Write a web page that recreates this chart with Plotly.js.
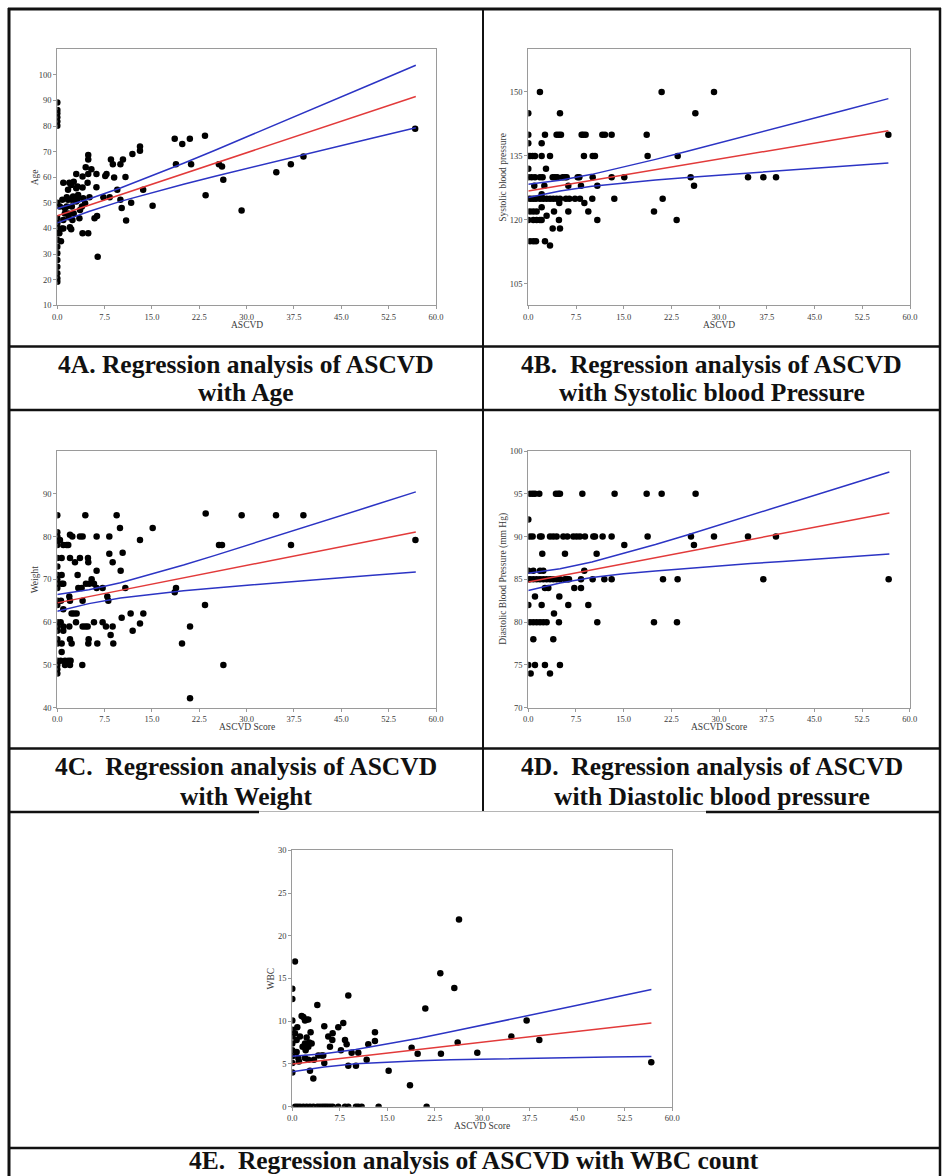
<!DOCTYPE html>
<html>
<head>
<meta charset="utf-8">
<script src="https://cdn.plot.ly/plotly-3.0.1.min.js"></script>
<style>
  html, body { margin: 0; padding: 0; background: #fff; }
  #fig { width: 942px; height: 1176px; }
</style>
</head>
<body>
<div id="fig"></div>
<script>
// ---- Data: ASCVD score against five clinical variables ----
const xTicks = [0, 7.5, 15, 22.5, 30, 37.5, 45, 52.5, 60];
// x positions at which the fitted line and its confidence band are listed
const bandX = [0, 5, 10, 15, 20, 25, 30, 35, 40, 45, 50];

// 4A  Age
const ageX = [0,0,0,0,0,0,0,0,0,0,0,0,0,0,0,0,0,0,0,
  0.95,0.58,0.32,0.69,0.95,0.95,1.2,1.2,1.5,1.7,1.5,1.7,1.9,2.2,2.3,2.5,2.3,2.0,2.2,2.4,2.6,
  3.0,3.0,3.0,3.3,3.5,3.6,4.0,4.0,4.0,4.4,4.5,4.8,4.9,4.9,4.9,4.9,5.1,5.4,5.9,6.2,6.2,6.3,6.4,
  7.3,7.6,7.8,8.3,8.5,8.8,9.0,9.5,10.0,10.0,10.2,10.4,10.8,10.9,11.7,11.9,13.1,13.1,13.6,15.1,
  18.6,18.8,19.8,21.0,21.2,23.4,23.5,25.6,26.1,26.3,29.2,34.7,37.0,39.0,56.7,
  0.4,0.8,1.7,3.2,3.9,4.1,2.6,3.2,1.8];
const ageY = [89.2,86.3,85.0,83.5,81.8,80.1,50.1,44.0,42.0,40.1,38.1,35.5,32.9,30.3,27.7,25.1,22.5,20.5,19.2,
  57.9,35.0,38.1,40.0,40.0,43.3,45.9,47.9,48.6,45.9,52.2,55.1,57.9,57.0,51.2,52.5,48.6,40.5,39.7,43.3,45.9,
  61.3,55.7,50.5,53.1,44.0,47.2,60.3,56.0,38.1,49.9,63.9,57.9,38.1,68.7,67.0,61.3,52.2,63.1,44.0,61.3,56.1,44.9,29.0,
  52.2,60.5,61.3,52.2,67.0,65.1,59.9,55.1,65.1,51.2,48.0,67.0,60.1,43.1,50.1,69.1,70.4,72.0,55.1,48.9,
  75.1,65.1,73.0,75.1,65.1,76.2,53.0,65.1,64.2,59.0,47.0,62.0,65.1,68.1,79.0,
  48.6,51.2,51.2,51.2,48.6,51.8,58.3,56.4,44.4];
const ageFitX = bandX.concat([56.8]);
const ageFit = [45.0, 49.1, 53.2, 57.3, 61.4, 65.5, 69.6, 73.7, 77.8, 81.9, 86.0, 91.58];
const ageHi  = [47.8, 51.53, 55.8, 60.52, 65.49, 70.59, 75.75, 80.94, 86.16, 91.39, 96.63, 103.78];
const ageLo  = [42.2, 46.67, 50.6, 54.09, 57.31, 60.42, 63.46, 66.46, 69.44, 72.41, 75.37, 79.38];

// 4B  Systolic blood pressure
const sbpX = [0,0,0,0,0.26,0.68,1.05,0,0,0.52,1.05,1.83,2.25,0.94,0,0.37,0.79,1.21,1.83,2.36,2.88,3.41,3.93,4.45,4.98,
  0.26,0.79,1.31,0,0.79,1.31,1.83,2.10,0.26,0.79,1.21,1.83,2.10,2.10,2.52,2.62,2.78,2.62,2.10,2.10,2.88,3.41,3.41,
  3.83,4.19,4.56,4.04,3.83,4.82,4.98,4.87,4.45,4.82,5.14,4.98,5.40,5.77,6.03,6.29,6.29,5.92,6.45,7.34,7.76,8.02,
  8.28,8.39,8.65,9.01,8.75,8.12,8.81,9.43,10.06,10.12,10.12,10.48,10.85,10.85,11.64,12.05,13.10,13.10,13.52,15.09,
  18.61,18.76,19.76,20.96,21.12,23.32,23.48,25.52,26.05,26.26,29.19,34.54,36.95,38.94,56.6];
const sbpY = [145,140,138,135,135,135,135,132,130,130,130,130,130,128,125,125,125,125,125,125,125,125,125,125,125,
  122,122,122,120,120,120,120,120,115,115,115,150,138,135,128,140,132,115,123,126,121,135,114,
  130,130,130,122,118,120,118,124,140,140,140,145,130,130,130,128,122,125,125,125,130,130,
  128,140,140,140,135,125,124,122,125,130,135,135,128,120,140,140,140,130,125,130,
  140,135,122,150,125,120,135,130,128,145,150,130,130,130,140];
const sbpFitX = bandX.concat([56.6]);
const sbpFit = [126.8, 128.05, 129.29, 130.54, 131.78, 133.03, 134.27, 135.52, 136.76, 138.01, 139.25, 140.89];
const sbpHi  = [128.35, 129.33, 130.69, 132.37, 134.2, 136.1, 138.02, 139.97, 141.92, 143.88, 145.85, 148.44];
const sbpLo  = [125.25, 126.77, 127.89, 128.7, 129.36, 129.96, 130.52, 131.07, 131.6, 132.13, 132.66, 133.34];

// 4C  Weight
const wtX = [0,0,0,0,0,0,0,0,0,0,0,0,0,0,0,0,0,0,0,0,0,0,
  0.42,0.69,0.69,0.69,0.58,0.95,0.53,0.95,0.95,0.69,0.69,0.53,1.22,1.22,0.95,1.48,0.95,
  1.74,2.01,2.01,2.38,1.90,2.01,1.90,2.01,2.27,1.74,2.01,2.11,
  2.27,2.64,3.06,2.80,3.22,3.59,2.96,3.33,3.86,3.59,4.01,4.01,3.96,4.01,4.44,4.54,4.44,4.86,4.91,4.81,4.97,4.91,
  5.07,5.44,5.81,5.81,6.23,6.23,6.23,6.34,7.18,7.18,7.71,7.92,8.08,8.24,8.24,8.45,8.77,8.77,8.87,9.40,9.93,
  10.04,10.20,10.35,10.78,11.62,11.94,13.10,13.10,13.63,15.11,18.60,18.81,19.76,21.03,21.03,23.40,23.51,
  25.62,26.10,26.31,29.21,34.65,37.03,38.99,56.74];
const wtY = [85,81,80,79,78,75,73,71,70,69,68,65,64,60,59,58,56,55,51,50,49,48,
  79.2,75,71,69,65,63,60,59,58,55,53,51,51,50,78,78,69,
  78,75,80.4,80,66,65,59,56,55,51,50,51,
  62,62,62,74,71,75,60,68,68,80,80,65,50,59,59,69,85,75,74,59,56,55,
  69,70,69,60,80,72,68,55,68,60,59,66,65,80,76,57,74,59,55,85,82,
  72,61,76.2,68,62,58,79.2,59.7,62,82,67,68,55,59,42.2,64,85.4,
  78,78,50,85,85,78,85,79.2];
const wtFitX = bandX.concat([56.8]);
const wtFit = [64.5, 65.96, 67.42, 68.88, 70.34, 71.8, 73.26, 74.72, 76.18, 77.64, 79.1, 81.09];
const wtHi  = [66.45, 67.59, 69.19, 71.18, 73.34, 75.61, 77.9, 80.22, 82.55, 84.89, 87.24, 90.44];
const wtLo  = [62.55, 64.33, 65.65, 66.58, 67.34, 67.99, 68.62, 69.22, 69.81, 70.39, 70.96, 71.74];

// 4D  Diastolic blood pressure (mm Hg)
const dbpX = [0.26,0.68,1.05,1.73,0,0.26,0.68,1.84,2.10,0,0.79,1.84,2.36,
  0,0.26,0.79,1.31,1.84,2.36,2.88,3.41,3.93,4.46,4.98,
  0,0.26,0.79,1.31,1.84,2.36,2.88,0.79,0,1.05,0.37,1.05,2.10,2.20,2.62,3.15,2.62,3.41,4.04,3.93,
  3.41,3.93,4.46,4.35,4.72,4.98,4.88,4.82,4.98,5.51,6.14,5.77,5.77,6.14,6.40,6.29,
  7.08,7.60,8.13,8.91,7.24,8.29,8.50,8.29,8.81,9.44,10.12,10.23,10.49,10.75,10.85,11.69,11.96,
  13.11,13.11,13.58,15.10,18.62,18.77,19.77,20.98,21.19,23.39,23.49,25.59,26.06,26.32,29.21,34.56,36.97,38.96,56.69];
const dbpY = [95,95,95,95,92,90,90,90,90,86,86,86,86,
  85,85,85,85,85,85,85,85,85,85,85,
  82,80,80,80,80,80,80,78,75,75,74,83,82,88,84,84,75,74,81,78,
  90,90,90,95,95,95,83,80,75,90,90,88,85,85,85,82,
  90,90,90,90,84,84,95,85,86,82,85,90,90,88,80,90,85,
  90,85,95,89,95,90,80,95,85,80,85,90,89,95,90,90,85,90,85];
const dbpFitX = bandX.concat([56.8]);
const dbpFit = [84.7, 85.41, 86.12, 86.83, 87.53, 88.24, 88.95, 89.66, 90.37, 91.08, 91.79, 92.75];
const dbpHi  = [85.7, 86.25, 87.03, 88.01, 89.07, 90.19, 91.33, 92.48, 93.64, 94.8, 95.97, 97.55];
const dbpLo  = [83.7, 84.58, 85.21, 85.65, 85.99, 86.29, 86.57, 86.84, 87.1, 87.36, 87.62, 87.95];

// 4E  WBC count
const wbcX = [0,0,0,0,0,0,0,0,0,0,0.42,0.79,0.68,0.42,0.95,0.68,1.21,1.05,1.47,1.74,2.0,2.26,2.53,
  1.63,2.0,2.26,2.11,2.0,2.53,2.68,2.89,3.05,2.79,2.53,3.32,3.42,3.95,4.11,4.63,4.89,5.05,5.05,
  5.68,5.95,6.32,6.37,7.26,7.68,8.05,8.32,8.58,8.84,8.84,9.37,10.05,10.42,11.74,12.0,13.05,13.05,
  15.21,18.58,18.84,19.79,21.0,23.37,23.47,25.58,26.11,26.32,29.21,34.58,37.0,39.0,56.68,
  0.42,0.79,1.21,1.74,2.26,2.79,3.32,3.95,4.37,4.79,5.16,5.53,5.95,6.37,7.26,8.32,8.84,10.05,10.42,10.95,13.63,21.21];
const wbcY = [13.8,12.6,10.1,9.0,8.2,7.4,6.6,5.9,5.1,4.0,17.0,9.3,7.8,8.6,5.7,6.4,8.2,5.3,10.6,10.5,10.1,10.2,10.2,
  7.0,7.4,8.1,6.6,5.7,7.0,7.5,8.7,7.4,4.2,5.5,3.3,5.5,11.9,6.0,6.0,6.0,9.4,5.1,
  8.2,7.0,7.8,8.6,9.3,6.6,9.8,7.8,7.3,13.0,4.8,6.3,4.8,6.3,5.5,7.3,7.7,8.7,
  4.2,2.5,6.9,6.2,11.5,15.6,6.2,13.9,7.5,21.9,6.3,8.2,10.1,7.8,5.2,
  0,0,0,0,0,0,0,0,0,0,0,0,0,0,0,0,0,0,0,0,0,0];
const wbcFitX = bandX.concat([56.7]);
const wbcFit = [5.0, 5.42, 5.85, 6.27, 6.69, 7.12, 7.54, 7.96, 8.39, 8.81, 9.24, 9.8];
const wbcHi  = [5.9, 6.2, 6.68, 7.3, 8.0, 8.76, 9.52, 10.29, 11.08, 11.87, 12.66, 13.72];
const wbcLo  = [4.1, 4.64, 5.02, 5.24, 5.38, 5.48, 5.56, 5.63, 5.7, 5.75, 5.82, 5.88];

// ---- Page geometry (pixels) ----
const W = 942, H = 1176;
const fx = v => v / W;
const fy = v => 1 - v / H;

const RED = 'rgb(226,58,58)';
const BLUE = 'rgb(44,52,196)';
const SERIF = '"Liberation Serif", "Times New Roman", serif';
const GREY = '#9a9a9a';

const panels = [
  {x: ageX, y: ageY, fx: ageFitX, fit: ageFit, hi: ageHi, lo: ageLo,
   box: [57.3, 436, 49.3, 305.3], yr: [10, 110], yt: [10,20,30,40,50,60,70,80,90,100],
   xTitle: 'ASCVD', yTitle: 'Age', xTitleY: 325, yTitleX: 35},
  {x: sbpX, y: sbpY, fx: sbpFitX, fit: sbpFit, hi: sbpHi, lo: sbpLo,
   box: [528.3, 910, 49.3, 305.3], yr: [100, 160], yt: [105,120,135,150],
   xTitle: 'ASCVD', yTitle: 'Systolic blood pressure', xTitleY: 325, yTitleX: 503.5},
  {x: wtX, y: wtY, fx: wtFitX, fit: wtFit, hi: wtHi, lo: wtLo,
   box: [57.3, 436, 451, 707.7], yr: [40, 100], yt: [40,50,60,70,80,90],
   xTitle: 'ASCVD Score', yTitle: 'Weight', xTitleY: 727, yTitleX: 35},
  {x: dbpX, y: dbpY, fx: dbpFitX, fit: dbpFit, hi: dbpHi, lo: dbpLo,
   box: [528.3, 909.7, 451, 707.7], yr: [70, 100], yt: [70,75,80,85,90,95,100],
   xTitle: 'ASCVD Score', yTitle: 'Diastolic Blood Pressure (mm Hg)', xTitleY: 727, yTitleX: 503.5},
  {x: wbcX, y: wbcY, fx: wbcFitX, fit: wbcFit, hi: wbcHi, lo: wbcLo,
   box: [292.3, 672.3, 850.3, 1106.7], yr: [0, 30], yt: [0,5,10,15,20,25,30],
   xTitle: 'ASCVD Score', yTitle: 'WBC', xTitleY: 1126, yTitleX: 270}
];

const traces = [];
const layout = {
  width: W, height: H,
  margin: {l: 0, r: 0, t: 0, b: 0},
  paper_bgcolor: '#fff', plot_bgcolor: '#fff',
  showlegend: false,
  font: {family: SERIF, color: '#3a3a3a', size: 10},
  annotations: [], shapes: []
};

const tickFont = {family: SERIF, size: 8.5, color: '#3a3a3a'};
const titleFont = {family: SERIF, size: 9.5, color: '#3a3a3a'};

panels.forEach((p, i) => {
  const n = i === 0 ? '' : String(i + 1);
  const xa = 'x' + n, ya = 'y' + n;
  const [x0, x1, y0, y1] = p.box;
  const common = {
    showline: true, mirror: true, linecolor: GREY, linewidth: 1,
    ticks: 'outside', ticklen: 3, tickcolor: GREY,
    showgrid: false, zeroline: false, fixedrange: true, tickfont: tickFont
  };
  layout['xaxis' + n] = Object.assign({
    domain: [fx(x0), fx(x1)], anchor: ya, range: [0, 60],
    tickvals: xTicks, tickformat: '.1f'
  }, common);
  layout['yaxis' + n] = Object.assign({
    domain: [fy(y1), fy(y0)], anchor: xa, range: p.yr, tickvals: p.yt
  }, common);

  traces.push({x: p.x, y: p.y, xaxis: xa, yaxis: ya, type: 'scatter', mode: 'markers',
               marker: {color: '#000', size: 6.5}, hoverinfo: 'x+y'});
  [p.hi, p.lo].forEach(band => traces.push({
    x: p.fx, y: band, xaxis: xa, yaxis: ya, type: 'scatter', mode: 'lines',
    line: {color: BLUE, width: 1.5}, hoverinfo: 'skip'}));
  traces.push({x: p.fx, y: p.fit, xaxis: xa, yaxis: ya, type: 'scatter', mode: 'lines',
               line: {color: RED, width: 1.5}, hoverinfo: 'skip'});

  layout.annotations.push({
    xref: 'paper', yref: 'paper', x: fx((x0 + x1) / 2), y: fy(p.xTitleY),
    xanchor: 'center', yanchor: 'middle', showarrow: false,
    text: p.xTitle, font: titleFont
  });
  layout.annotations.push({
    xref: 'paper', yref: 'paper', x: fx(p.yTitleX), y: fy((y0 + y1) / 2),
    xanchor: 'center', yanchor: 'middle', showarrow: false, textangle: -90,
    text: p.yTitle, font: titleFont
  });
});

// Figure captions, one annotation per line
const captions = [
  {t: '4A. Regression analysis of ASCVD', x: 246, y: 364},
  {t: 'with Age', x: 246, y: 393},
  {t: '4B.\u00a0 Regression analysis of ASCVD', x: 711.5, y: 364},
  {t: 'with Systolic blood Pressure', x: 711.5, y: 393},
  {t: '4C.\u00a0 Regression analysis of ASCVD', x: 246, y: 766},
  {t: 'with Weight', x: 246, y: 796},
  {t: '4D.\u00a0 Regression analysis of ASCVD', x: 711.5, y: 766},
  {t: 'with Diastolic blood pressure', x: 711.5, y: 796},
  {t: '4E.\u00a0 Regression analysis of ASCVD with WBC count', x: 474, y: 1160}
];
captions.forEach(c => layout.annotations.push({
  xref: 'paper', yref: 'paper', x: fx(c.x), y: fy(c.y),
  xanchor: 'center', yanchor: 'middle', showarrow: false,
  text: '<b>' + c.t + '</b>', font: {family: SERIF, size: 25.5, color: '#111'}
}));

// Table rules around the panels
const rule = (x0, y0, x1, y1, w, col) => ({
  type: 'line', xref: 'paper', yref: 'paper',
  x0: fx(x0), y0: fy(y0), x1: fx(x1), y1: fy(y1),
  line: {color: col || '#111', width: w}
});
layout.shapes.push(
  rule(8, 9, 941, 9, 3),
  rule(9, 8, 9, 1176, 3),
  rule(940, 8, 940, 1176, 2.5),
  rule(483, 9, 483, 812, 2),
  rule(8, 346.5, 941, 346.5, 2.5),
  rule(8, 410, 941, 410, 2.5),
  rule(8, 748.5, 941, 748.5, 2.5),
  rule(8, 812, 259, 812, 2.5),
  rule(259, 811.5, 706, 811.5, 1, '#b5b5b5'),
  rule(706, 812, 941, 812, 2.5),
  rule(8, 1148, 941, 1148, 2.5)
);

Plotly.newPlot('fig', traces, layout, {staticPlot: true, displayModeBar: false});
</script>
</body>
</html>
